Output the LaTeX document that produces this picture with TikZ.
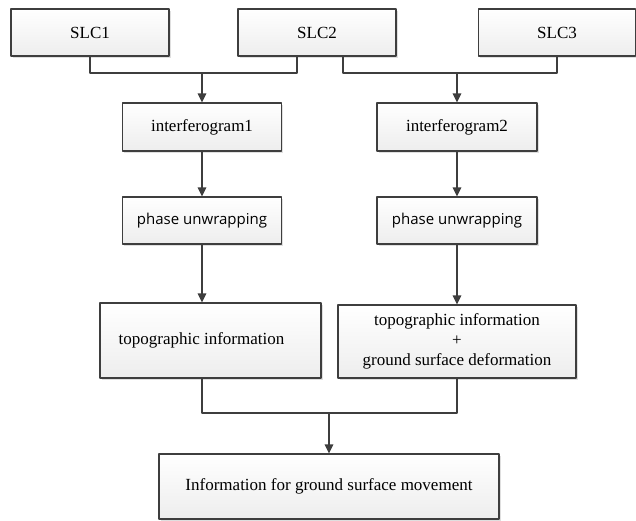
\documentclass[tikz,border=0pt]{standalone}
\usepackage{fontspec}
\setmainfont{Liberation Serif}
\newfontfamily\uifont{Open Sans}
\usetikzlibrary{arrows.meta,shadows}
\definecolor{edgegray}{HTML}{3E3E3E}
\begin{document}
\begin{tikzpicture}[x=1pt, y=-1pt, line join=round, >={Triangle[length=9pt,width=8.5pt]},
    box/.style={draw=edgegray, line width=1.1pt, top color=white, bottom color=gray!14,
        drop shadow={opacity=.25, shadow xshift=1.5pt, shadow yshift=-1.5pt},
        inner sep=0pt, align=center, font=\fontsize{17}{20}\selectfont},
    uibox/.style={box, font=\uifont\fontsize{15}{18}\selectfont},
    link/.style={draw=edgegray, line width=1.2pt},
    arr/.style={link, ->}]
    \useasboundingbox (0,0) rectangle (636,520);
    % sources
    \node[box, minimum width=158pt, minimum height=47pt] (slc1) at (90,32.5) {SLC1};
    \node[box, minimum width=158pt, minimum height=47pt] (slc2) at (317,32.5) {SLC2};
    \node[box, minimum width=157pt, minimum height=47pt] (slc3) at (557,32.5) {SLC3};
    % interferograms and unwrapping
    \node[box, minimum width=159pt, minimum height=48pt] (int1) at (202,127) {interferogram1};
    \node[box, minimum width=160pt, minimum height=48pt] (int2) at (457,127) {interferogram2};
    \node[uibox, minimum width=159pt, minimum height=47pt] (pu1) at (202,220.5) {phase unwrapping};
    \node[uibox, minimum width=160pt, minimum height=47pt] (pu2) at (457,220.5) {phase unwrapping};
    % results
    \node[box, minimum width=221pt, minimum height=75pt] (topo1) at (210.5,340.5)
        {topographic information\hspace*{18pt}};
    \node[box, minimum width=238pt, minimum height=73pt] (topo2) at (457,341.5)
        {topographic information\\+\\ground surface deformation};
    \node[box, minimum width=340pt, minimum height=65pt] (final) at (329,486.5)
        {Information for ground surface movement};
    % joints
    \coordinate (s2l) at (297,56);
    \coordinate (s2r) at (343,56);
    \coordinate (j1) at (202,73);
    \coordinate (j2) at (457,73);
    \coordinate (j3) at (329,413);
    % connectors
    \draw[link] (slc1.south) |- (j1) -| (s2l);
    \draw[link] (s2r) |- (j2) -| (slc3.south);
    \draw[arr] (j1) -- (j1 |- int1.north);
    \draw[arr] (j2) -- (j2 |- int2.north);
    \draw[arr] (int1) -- (pu1);
    \draw[arr] (int2) -- (pu2);
    \draw[arr] (pu1.south) -- (pu1.south |- topo1.north);
    \draw[arr] (pu2.south) -- (pu2.south |- topo2.north);
    \draw[link] (pu1.south |- topo1.south) |- (j3) -| (pu2.south |- topo2.south);
    \draw[arr] (j3) -- (final);
\end{tikzpicture}
\end{document}
